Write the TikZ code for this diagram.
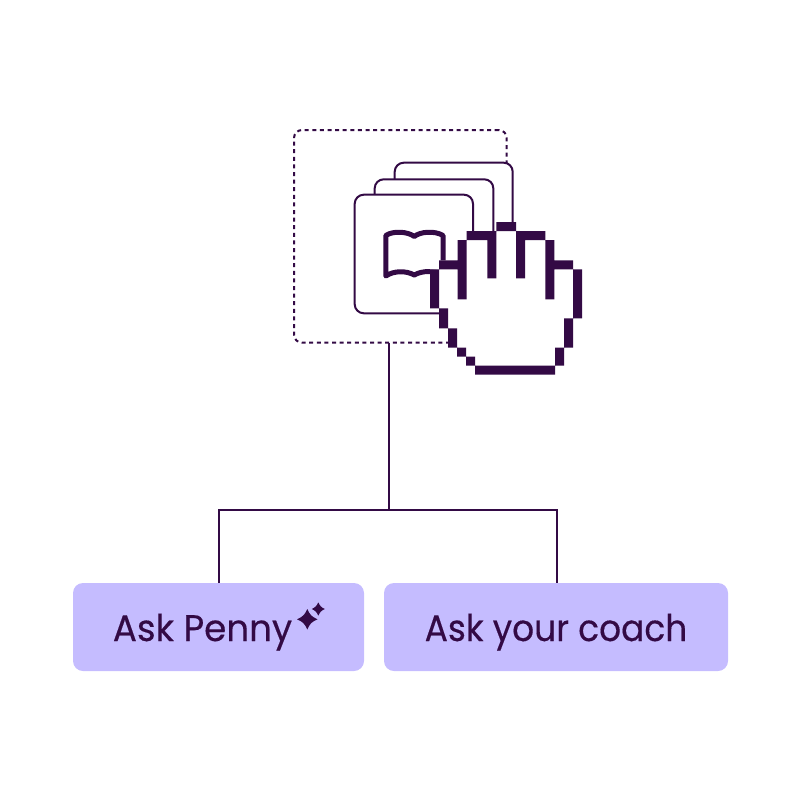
\documentclass[tikz,border=0pt]{standalone}
\usepackage{fontspec}
\setmainfont[FakeStretch=0.945,FakeBold=0.35]{Poppins}
\newfontfamily\pennyfont[FakeStretch=0.965,FakeBold=0.35]{Poppins}
\newfontfamily\coachfont[FakeStretch=0.93,FakeBold=0.35]{Poppins}
\definecolor{ink}{HTML}{330A45}
\definecolor{lilac}{HTML}{C5BCFF}
\tikzset{
  x=1pt,y=-1pt,
  wire/.style={draw=ink,line width=2pt},
  card/.style={draw=ink,fill=white,line width=2pt,rounded corners=9pt,outer sep=0pt,inner sep=0pt,anchor=north west},
  dotbox/.style={draw=ink,line width=2pt,rounded corners=8pt,dash pattern=on 4pt off 3.6pt,outer sep=0pt,inner sep=0pt,anchor=north west},
  btn/.style={fill=lilac,rounded corners=10pt,inner sep=0pt,outer sep=0pt,minimum height=88pt,text=ink,
    text height=28pt,text depth=0pt,align=center},
  pixel/.style={fill=ink},
  booklines/.style={draw=ink,line width=5pt,line join=round,line cap=round},
  spark/.style={fill=ink}
}
\begin{document}
\begin{tikzpicture}
\useasboundingbox (0,0) rectangle (800,800);
% dashed frame
\node[dotbox,minimum width=212.7pt,minimum height=212.7pt] (frame) at (294,130) {};
% buttons
\node[btn,minimum width=291pt,font=\pennyfont\fontsize{37}{40}\selectfont] (penny) at (218.5,627) {Ask Penny\hspace{32pt}};
\node[btn,minimum width=344pt,font=\coachfont\fontsize{37}{40}\selectfont] (coach) at (556,627) {Ask your coach};
% connectors
\coordinate (stem) at (389,343);
\coordinate (junction) at (389,510);
\coordinate (penny top) at (219,583);
\coordinate (coach top) at (557,583);
\draw[wire] (stem) -- (junction);
\draw[wire,line join=miter] (penny top) -- (219,510) -- (557,510) -- (coach top);
% stacked cards
\node[card,minimum width=118pt,minimum height=118pt] (card3) at (394.7,162.7) {};
\node[card,minimum width=118.6pt,minimum height=118.6pt] (card2) at (374.7,179.3) {};
\node[card,minimum width=118.3pt,minimum height=118.6pt] (card1) at (354.7,194.7) {};
% book
\draw[booklines] (414.3,236.5) .. controls (408,231.5) and (393,230.5) .. (385.8,235.5)
  -- (385.8,276) .. controls (394,270.5) and (406,270.5) .. (414.3,275)
  .. controls (422,270.5) and (434,270.5) .. (443,274)
  -- (443,235.5) .. controls (435,230.5) and (420,231.5) .. (414.3,236.5) -- cycle;
% hand
\fill[white] (430,269.3) -- (439,269.3) -- (439,260.3) -- (457.7,260.3) -- (457.7,240) -- (466.7,240) -- (466.7,231)
 -- (496.3,231) -- (496.3,222) -- (516,222) -- (516,231) -- (545.3,231) -- (545.3,240) -- (554.3,240) -- (554.3,260.3)
 -- (573,260.3) -- (573,269.3) -- (582,269.3) -- (582,318.3) -- (573,318.3) -- (573,347.7) -- (564,347.7) -- (564,365.7)
 -- (555,365.7) -- (555,374.7) -- (475,374.7) -- (475,365.7) -- (466,365.7) -- (466,356.7) -- (457,356.7) -- (457,347.7)
 -- (448,347.7) -- (448,328.3) -- (439,328.3) -- (439,308.3) -- (430,308.3) -- cycle;
\fill[pixel]
 (430,269.3) rectangle (439,308.3)
 (439,308.3) rectangle (448,328.3)
 (448,328.3) rectangle (457,347.7)
 (457,347.7) rectangle (466,356.7)
 (466,356.7) rectangle (475,365.7)
 (475,365.7) rectangle (555,374.7)
 (555,347.7) rectangle (564,365.7)
 (564,318.3) rectangle (573,347.7)
 (573,269.3) rectangle (582,318.3)
 (554.3,260.3) rectangle (573,269.3)
 (545.3,240) rectangle (554.3,299.3)
 (516,231) rectangle (545.3,240)
 (516,240) rectangle (525,278.3)
 (496.3,222) rectangle (516,231)
 (466.7,231) rectangle (496.3,240)
 (487.3,240) rectangle (496.3,278.3)
 (457.7,240) rectangle (466.7,299.3)
 (439,260.3) rectangle (457.7,269.3);
% sparkles
\fill[spark] (307.3,609) .. controls (310,615) and (311.5,616.5) .. (317.5,619.3)
  .. controls (311.5,622) and (310,623.5) .. (307.3,629.5)
  .. controls (304.6,623.5) and (303,622) .. (297.1,619.3)
  .. controls (303,616.5) and (304.6,615) .. (307.3,609) -- cycle;
\fill[spark] (318.3,602.4) .. controls (320,606) and (321.2,607.3) .. (324.8,609)
  .. controls (321.2,610.7) and (320,612) .. (318.3,615.6)
  .. controls (316.6,612) and (315.4,610.7) .. (311.8,609)
  .. controls (315.4,607.3) and (316.6,606) .. (318.3,602.4) -- cycle;
\end{tikzpicture}
\end{document}
